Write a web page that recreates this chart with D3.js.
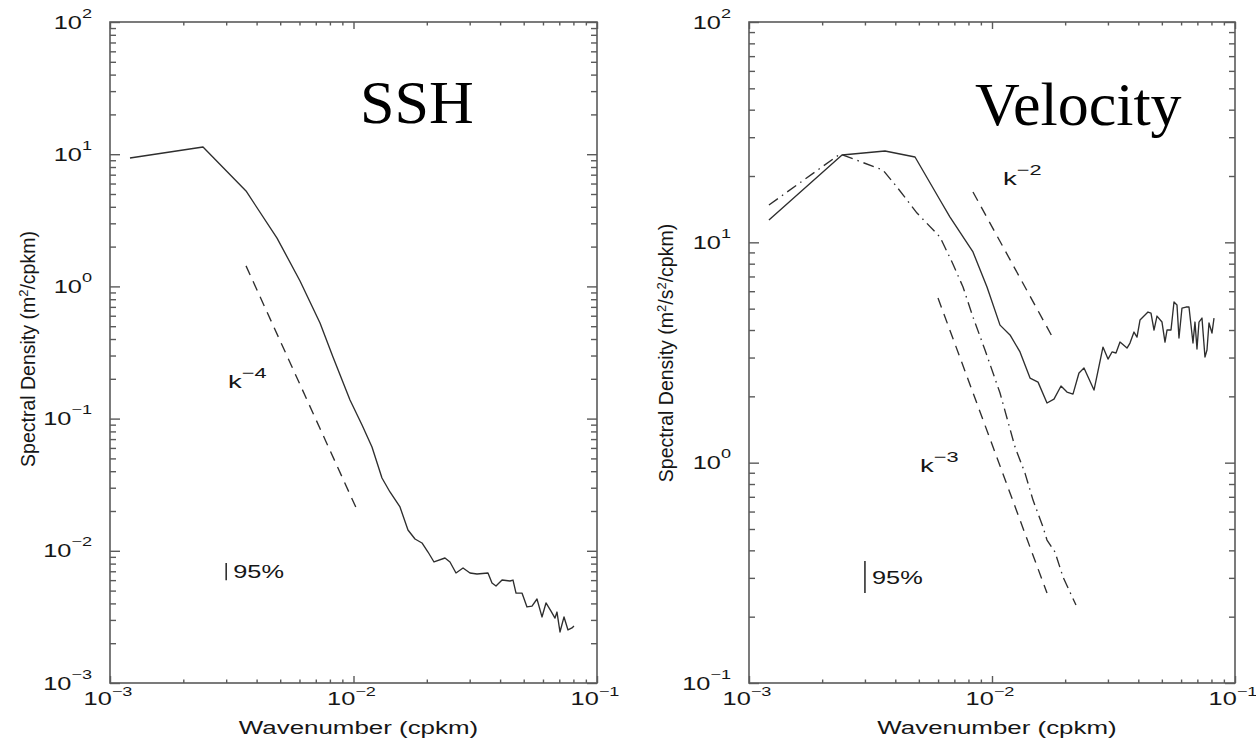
<!DOCTYPE html>
<html lang="en">
<head>
<meta charset="UTF-8">
<title>SSH and Velocity wavenumber spectra</title>
<script src="https://cdn.jsdelivr.net/npm/d3@7"></script>
<style>
  body { margin: 0; background: #fff; }
  svg { display: block; }
  .frame { fill: none; stroke: #5a5a5a; stroke-width: 1.6; }
  .axis .tick line { stroke: #5a5a5a; stroke-width: 1.4; }
  .axis .domain { display: none; }
  .lbl { font-family: "Liberation Sans", Arial, sans-serif; fill: #161616; }
  .title { font-family: "Liberation Serif", "Times New Roman", serif; font-size: 62px; fill: #000; }
  .spec { fill: none; stroke: #2e2e2e; stroke-width: 1.35; stroke-linejoin: round; }
  .ci { stroke: #222; stroke-width: 1.5; }
</style>
</head>
<body>
<script>
// wavenumber (cpkm) and spectral density
var sshK = [0.001208, 0.002410, 0.003619, 0.004852, 0.006031, 0.007286, 0.008236, 0.009674, 0.01084, 0.01191,
            0.01309, 0.01412, 0.01552, 0.01674, 0.01789, 0.01911, 0.02023, 0.02141, 0.02375, 0.02490,
            0.02636, 0.02817, 0.03009, 0.03215, 0.03567, 0.03705, 0.03848, 0.04074, 0.04393, 0.04519,
            0.04650, 0.04920, 0.05158, 0.05408, 0.05670, 0.05944, 0.06174, 0.06473, 0.06722, 0.06850,
            0.07047, 0.07320, 0.07601, 0.07893, 0.08043];
var sshPSD = [9.36, 11.34, 5.27, 2.32, 1.099, 0.5285, 0.2924, 0.1382, 0.0894, 0.0610,
              0.03553, 0.02785, 0.02145, 0.01437, 0.01228, 0.01146, 0.00979, 0.00823, 0.00882, 0.00823,
              0.00679, 0.00741, 0.00679, 0.00668, 0.00679, 0.00571, 0.00542, 0.00601, 0.00591, 0.00601,
              0.00479, 0.00479, 0.00376, 0.00382, 0.00432, 0.00316, 0.00403, 0.00350, 0.00310, 0.00344,
              0.00243, 0.00316, 0.00252, 0.00261, 0.00270];

var velK = [0.001208, 0.002414, 0.003628, 0.004822, 0.006109, 0.006718, 0.008351, 0.009537, 0.01079, 0.01186,
            0.01304, 0.01434, 0.01547, 0.01684, 0.01799, 0.01923, 0.02035, 0.02154, 0.02280, 0.02391,
            0.02629, 0.02862, 0.03002, 0.03118, 0.03238, 0.03363, 0.03594, 0.03697, 0.03840, 0.03951,
            0.04065, 0.04182, 0.04385, 0.04511, 0.04642, 0.04775, 0.05007, 0.05151, 0.05251, 0.05453,
            0.05610, 0.05771, 0.05881, 0.06051, 0.06285, 0.06466, 0.06716, 0.06844, 0.06975, 0.07110,
            0.07313, 0.07523, 0.07668, 0.07816, 0.08040, 0.08196];
var velPSD = [12.62, 24.91, 25.97, 24.39, 15.56, 13.02, 9.04, 6.27, 4.21, 3.80,
              3.18, 2.42, 2.32, 1.865, 1.944, 2.227, 2.092, 2.048, 2.551, 2.688,
              2.135, 3.347, 2.953, 3.18, 3.145, 3.527, 3.313, 3.491, 3.915, 3.716,
              4.439, 4.580, 4.827, 4.776, 3.999, 4.628, 4.347, 3.527, 3.999, 3.999,
              5.358, 5.193, 3.678, 5.032, 5.085, 5.085, 3.491, 4.347, 3.279, 4.347,
              4.532, 3.015, 3.245, 4.302, 3.875, 4.532];

// second velocity spectrum (dash-dot)
var vel2K = [0.001208, 0.002369, 0.003559, 0.004064, 0.004914, 0.006109, 0.006846, 0.007598, 0.008351, 0.009359,
             0.01079, 0.01244, 0.01367, 0.01475, 0.01622, 0.01684, 0.01817, 0.01960, 0.02216];
var vel2PSD = [14.77, 25.17, 21.29, 17.82, 13.58, 10.57, 8.14, 6.27, 4.580, 3.245,
               2.070, 1.177, 0.8970, 0.6763, 0.5101, 0.4454, 0.3928, 0.3025, 0.2258];

// reference slopes
var k4K = [0.003619, 0.01043], k4PSD = [1.43, 0.0197];
var k2K = [0.008351, 0.01782], k2PSD = [16.92, 3.678];
var k3K = [0.005995, 0.01684], k3PSD = [5.587, 0.2559];

// 95% confidence bars
var sshCI = { k: 0.003, lo: 0.0060, hi: 0.0081 };
var velCI = { k: 0.003, lo: 0.256, hi: 0.358 };

// tick decades
var kDecades = [-3, -2, -1];
var sshDecades = [-3, -2, -1, 0, 1, 2];
var velDecades = [-1, 0, 1, 2];

var SX = 1.45;

var svg = d3.select("body").append("svg")
    .attr("width", 1256)
    .attr("height", 739);
svg.append("rect").attr("width", 1256).attr("height", 739).attr("fill", "#fff");

function richText(parent, px, py, parts, o) {
    var tf = "translate(" + px + "," + py + ")" + (o.rot ? " rotate(-90)" : "") + " scale(" + (o.sx || 1) + ",1)";
    var t = parent.append("text")
        .attr("class", "lbl")
        .attr("transform", tf)
        .attr("text-anchor", o.anchor || "start")
        .style("font-size", o.size + "px");
    var lift = 0;
    parts.forEach(function(p) {
        var target = p[1] ? o.raise : 0;
        var ts = t.append("tspan").text(p[0]).attr("dy", lift - target);
        if (p[1]) ts.style("font-size", o.supSize + "px");
        lift = target;
    });
    return t;
}

function expo(e) { return String(e).replace("-", "\u2212"); }

function drawPanel(cfg) {
    var g = svg.append("g").attr("transform", "translate(" + cfg.left + "," + cfg.top + ")");
    var x = d3.scaleLog().domain([1e-3, 1e-1]).range([0, cfg.w]);
    var y = d3.scaleLog()
        .domain([Math.pow(10, d3.min(cfg.decades)), Math.pow(10, d3.max(cfg.decades))])
        .range([cfg.h, 0]);

    var isMajor = function(d) { var l = Math.log10(d); return Math.abs(l - Math.round(l)) < 1e-6; };
    var xMajor = kDecades.map(function(e) { return Math.pow(10, e); });
    var yMajor = cfg.decades.map(function(e) { return Math.pow(10, e); });
    var xMinor = x.ticks().filter(function(d) { return !isMajor(d); });
    var yMinor = y.ticks().filter(function(d) { return !isMajor(d); });

    function ticks(axisFn, scale, vals, len, tf) {
        g.append("g").attr("class", "axis").attr("transform", tf || null)
            .call(axisFn(scale).tickValues(vals).tickSizeInner(-len).tickSizeOuter(0).tickFormat(""));
    }
    ticks(d3.axisBottom, x, xMajor, 7, "translate(0," + cfg.h + ")");
    ticks(d3.axisBottom, x, xMinor, 3.5, "translate(0," + cfg.h + ")");
    ticks(d3.axisTop, x, xMajor, 7);
    ticks(d3.axisTop, x, xMinor, 3.5);
    ticks(d3.axisLeft, y, yMajor, 10);
    ticks(d3.axisLeft, y, yMinor, 6);
    ticks(d3.axisRight, y, yMajor, 10, "translate(" + cfg.w + ",0)");
    ticks(d3.axisRight, y, yMinor, 6, "translate(" + cfg.w + ",0)");

    g.append("rect").attr("class", "frame").attr("width", cfg.w).attr("height", cfg.h);

    // tick labels
    cfg.decades.forEach(function(e) {
        richText(g, -18, y(Math.pow(10, e)) + 6.5, [["10", 0], [expo(e), 1]],
            { anchor: "end", size: 17.5, sx: SX, supSize: 12.5, raise: 11 });
    });
    kDecades.forEach(function(e) {
        richText(g, x(Math.pow(10, e)) - 2, cfg.h + 22, [["10", 0], [expo(e), 1]],
            { anchor: "middle", size: 17.5, sx: SX, supSize: 12.5, raise: 9 });
    });

    // axis titles
    richText(g, cfg.w / 2 + 5, cfg.h + 51, [["Wavenumber (cpkm)", 0]],
        { anchor: "middle", size: 17.5, sx: 1.48 });
    richText(g, cfg.yLabelX, cfg.yLabelY, cfg.yLabel,
        { anchor: "middle", rot: true, size: 19.5, supSize: 13, raise: 7 });

    var line = d3.line().x(function(d) { return x(d[0]); }).y(function(d) { return y(d[1]); });
    cfg.series.forEach(function(s) {
        g.append("path").attr("class", "spec")
            .attr("d", line(d3.zip(s.k, s.p)))
            .attr("stroke-dasharray", s.dash || null);
    });

    cfg.notes.forEach(function(n) {
        richText(g, x(n.k), y(n.p), [["k", 0], [n.sup, 1]],
            { size: 19, sx: SX, supSize: 15, raise: 10 });
    });

    var ci = cfg.ci;
    g.append("line").attr("class", "ci")
        .attr("x1", x(ci.k)).attr("x2", x(ci.k))
        .attr("y1", y(ci.hi)).attr("y2", y(ci.lo));
    richText(g, x(ci.k) + 7, (y(ci.hi) + y(ci.lo)) / 2 + 6.5, [["95%", 0]], { size: 17.5, sx: SX });

    g.append("text").attr("class", "title")
        .attr("x", cfg.titleX).attr("y", cfg.titleY).text(cfg.title);
}

drawPanel({
    left: 110, top: 22, w: 487, h: 661,
    decades: sshDecades,
    yLabel: [["Spectral Density (m", 0], ["2", 1], ["/cpkm)", 0]],
    yLabelX: -75, yLabelY: 327,
    series: [
        { k: sshK, p: sshPSD },
        { k: k4K, p: k4PSD, dash: "10,7" }
    ],
    notes: [{ k: 0.00305, p: 0.170, sup: "\u22124" }],
    ci: sshCI,
    title: "SSH", titleX: 250, titleY: 101
});

drawPanel({
    left: 749, top: 22, w: 486, h: 661,
    decades: velDecades,
    yLabel: [["Spectral Density (m", 0], ["2", 1], ["/s", 0], ["2", 1], ["/cpkm)", 0]],
    yLabelX: -76, yLabelY: 331,
    series: [
        { k: velK, p: velPSD },
        { k: vel2K, p: vel2PSD, dash: "11,5,1.5,5" },
        { k: k2K, p: k2PSD, dash: "10,7" },
        { k: k3K, p: k3PSD, dash: "10,7" }
    ],
    notes: [
        { k: 0.01110, p: 18.2, sup: "\u22122" },
        { k: 0.005055, p: 0.906, sup: "\u22123" }
    ],
    ci: velCI,
    title: "Velocity", titleX: 226, titleY: 103
});
</script>
</body>
</html>
